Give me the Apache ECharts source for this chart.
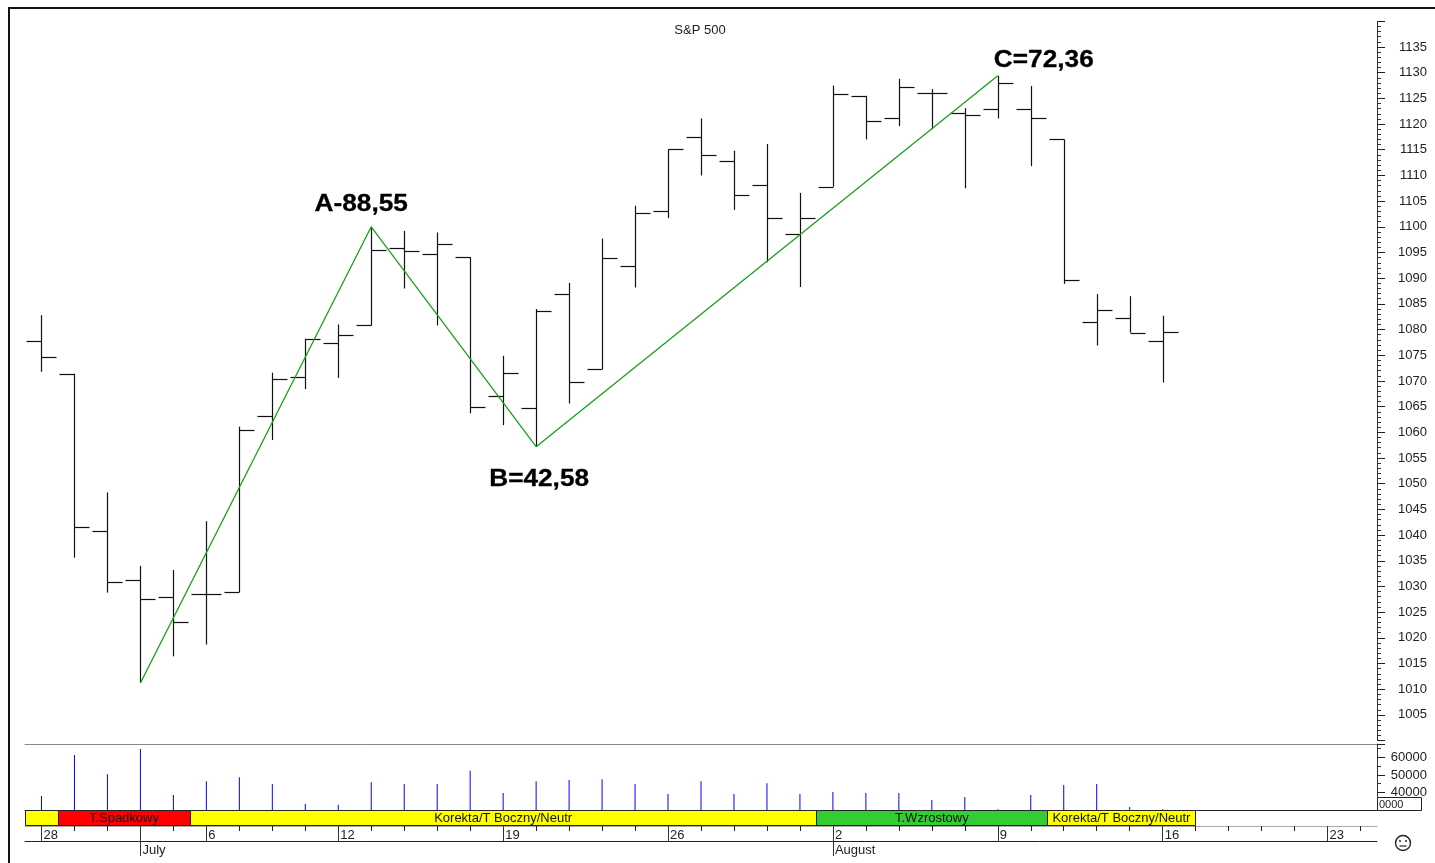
<!DOCTYPE html>
<html>
<head>
<meta charset="utf-8">
<title>S&amp;P 500</title>
<script src="https://cdn.jsdelivr.net/npm/echarts@6/dist/echarts.min.js"></script>
<style>
html,body{margin:0;padding:0;background:#fff;}
#chart{width:1435px;height:863px;}
</style>
</head>
<body>
<div id="chart"></div>
<script>
var days = ['28','29','30','1','2','6','7','8','9','12','13','14','15','16','19','20','21','22','23','26','27','28','29','30','2','3','4','5','6','9','10','11','12','13','16','17','18','19','20','23','24'];
var months = ['','','','July','','','','','','','','','','','','','','','','','','','','','August','','','','','','','','','','','','','','','',''];
var weekIdx = [0,5,9,14,19,24,29,34,39];
var monthIdx = [3,24];

var opens  = [1077.8,1071.4,1040.8,1031.3,1027.9,1028.5,1028.9,1063.1,1070.7,1077.4,1080.8,1095.8,1094.7,1094.1,1067.1,1064.7,1086.9,1072.3,1092.4,1103,1117.4,1112.9,1108.1,1098.6,1107.8,1125.5,1121.2,1126,1122.2,1122.9,1122.9,1117,1081.5,1082.3,1077.8];
var closes = [1074.7,1041.5,1030.9,1027.6,1023,1028.5,1060.5,1070.3,1078.2,1078.9,1095.4,1095.2,1096.6,1065,1071.5,1083.6,1069.8,1093.9,1102.7,1115.1,1114,1106.2,1101.7,1101.7,1125.9,1120.6,1127.3,1126,1121.8,1127.9,1121.2,1089.7,1083.8,1079.4,1079.5];
var highs  = [1082.8,1071.4,1048.3,1034,1033.2,1042.7,1061.1,1071.6,1078.2,1081,1100,1099.2,1098.9,1094.1,1074.9,1084,1089.1,1097.7,1104.1,1115.1,1121.1,1114.8,1116.1,1106.6,1127.5,1125.5,1128.8,1126.8,1123.1,1129.4,1127.4,1117,1086.9,1086.5,1082.7];
var lows   = [1071.8,1035.6,1028.8,1011.2,1016.4,1018.7,1028.9,1058.5,1068.4,1070.6,1080.8,1088,1080.8,1063.7,1061.4,1057.2,1065.6,1072.3,1088.2,1101.7,1110,1103.3,1093.1,1088.3,1107.8,1117,1119.6,1119,1107.5,1121.1,1111.8,1088.9,1076.9,1079.4,1069.7];
var volumes = [38000,61430,50400,64860,38570,46400,48680,44860,33430,33030,45830,44860,44860,52460,39710,46400,47140,47540,44860,39140,46400,39140,45260,39140,40290,39710,39710,35710,37430,30400,38570,44290,44860,31710,30400];

// wave legs, index into days and the price at that bar
var waveIdx = [3,10,15,29];
var waveVal = [1011.2,1100,1057.2,1129.4];
var waveNames = ['','A-88,55','B=42,58','C=72,36'];

var regimeNames = ['','T.Spadkowy','Korekta/T Boczny/Neutr','T.Wzrostowy','Korekta/T Boczny/Neutr'];
var regimeFrom = [-0.5,0.5,4.5,23.5,30.5];
var regimeTo = [0.5,4.5,23.5,30.5,35];
var regimeColors = ['#ffff00','#ff0000','#ffff00','#33cc33','#ffff00'];

var waveLine = days.map(function(d,i){
	var k = waveIdx.indexOf(i);
	return k<0 ? null : waveVal[k];
});
var labelOffsets = [[0,0],[-10,-22],[3,33],[46,-15]];
var font = '"Liberation Sans",Arial,sans-serif';

var myChart = echarts.init(document.getElementById('chart'));

function renderBar(params,api){
	var i = api.value(0);
	var x = Math.round(api.coord([i,0])[0])+0.5;
	var yO = Math.round(api.coord([i,api.value(1)])[1])+0.5;
	var yC = Math.round(api.coord([i,api.value(2)])[1])+0.5;
	var yH = api.coord([i,api.value(3)])[1];
	var yL = api.coord([i,api.value(4)])[1];
	var st = {stroke:'#111',lineWidth:1.2,fill:null};
	return {type:'group',children:[
		{type:'line',shape:{x1:x,y1:yH,x2:x,y2:yL},style:st},
		{type:'line',shape:{x1:x-15,y1:yO,x2:x,y2:yO},style:st},
		{type:'line',shape:{x1:x,y1:yC,x2:x+15,y2:yC},style:st}
	]};
}

// the source text is wider than any installed face, so stretch it a little
function renderWaveLabel(params,api){
	var k = api.value(2);
	var p = api.coord([api.value(0),api.value(1)]);
	return {type:'text',x:p[0]+labelOffsets[k][0],y:p[1]+labelOffsets[k][1],scaleX:1.14,
		style:{text:waveNames[k],textAlign:'center',textVerticalAlign:'middle',fill:'#000',
			stroke:'#000',lineWidth:0.3,font:'bold 23px '+font}};
}

function renderRegime(params,api){
	var i = api.value(0);
	var cs = params.coordSys;
	var w = api.size([1,0])[0];
	var x0 = cs.x+(regimeFrom[i]+0.5)*w;
	var x1 = cs.x+(regimeTo[i]+0.5)*w;
	return {type:'group',children:[
		{type:'rect',shape:{x:Math.round(x0)+0.5,y:cs.y+0.5,width:Math.round(x1-x0),height:cs.height-1},
			style:{fill:regimeColors[i],stroke:'#222',lineWidth:1}},
		{type:'text',style:{x:(x0+x1)/2,y:cs.y+cs.height/2+0.5,text:regimeNames[i],textAlign:'center',textVerticalAlign:'middle',
			fill:'#111',font:'13px '+font}}
	]};
}

function plainNumber(v){ return String(v); }

var option = {
	animation:false,
	backgroundColor:'#fff',
	title:{text:'S&P 500',left:695,top:19,textAlign:'center',
		textStyle:{color:'#222',fontSize:13,fontWeight:'normal',fontFamily:font}},
	grid:[
		{left:25,width:1352,top:21.3,height:719.3},
		{left:25,width:1352,top:744,height:66},
		{left:25,width:1352,top:810,height:16},
		{left:25,width:1352,top:826,height:15}
	],
	xAxis:[
		{gridIndex:0,type:'category',data:days,show:false},
		{gridIndex:1,type:'category',data:days,position:'top',axisLine:{onZero:false,lineStyle:{color:'#888',width:1}},axisTick:{show:false},axisLabel:{show:false}},
		{gridIndex:2,type:'category',data:days,position:'top',axisLine:{onZero:false,lineStyle:{color:'#222',width:1}},axisTick:{show:false},axisLabel:{show:false}},
		{gridIndex:2,type:'category',data:days,position:'bottom',axisLine:{onZero:false,lineStyle:{color:'#aaa',width:1}},
			axisTick:{show:true,alignWithLabel:true,interval:0,length:5,lineStyle:{color:'#222'}},axisLabel:{show:false}},
		{gridIndex:3,type:'category',data:days,position:'top',axisLine:{onZero:false,show:false},
			axisTick:{show:true,alignWithLabel:true,inside:true,length:15,customValues:weekIdx.concat(monthIdx),lineStyle:{color:'#333'}},
			axisLabel:{inside:true,customValues:weekIdx,align:'left',verticalAlign:'top',margin:3,padding:[0,0,0,2],
				color:'#222',fontSize:13,fontFamily:font}},
		{gridIndex:3,type:'category',data:months,position:'bottom',axisLine:{onZero:false,lineStyle:{color:'#222',width:1}},
			axisTick:{show:true,alignWithLabel:true,length:15,customValues:monthIdx,lineStyle:{color:'#333'}},
			axisLabel:{customValues:monthIdx,align:'left',verticalAlign:'top',margin:3,padding:[0,0,0,2],
				color:'#222',fontSize:13,fontFamily:font}}
	],
	yAxis:[
		{gridIndex:0,type:'value',position:'right',min:1000,max:1140,interval:5,splitLine:{show:false},
			axisLine:{show:true,lineStyle:{color:'#333'}},
			axisTick:{show:true,length:8,lineStyle:{color:'#222'}},
			minorTick:{show:true,splitNumber:5,length:4,lineStyle:{color:'#333'}},
			axisLabel:{showMinLabel:false,showMaxLabel:false,align:'right',margin:50,padding:[2,0,0,0],color:'#222',fontSize:13,fontFamily:font,formatter:plainNumber}},
		{gridIndex:1,type:'value',position:'right',min:30000,max:67714,interval:10000,splitLine:{show:false},
			axisLine:{show:true,lineStyle:{color:'#333'}},
			axisTick:{show:true,length:8,lineStyle:{color:'#222'}},
			minorTick:{show:true,splitNumber:2,length:4,lineStyle:{color:'#333'}},
			axisLabel:{showMinLabel:false,showMaxLabel:false,align:'right',margin:50,padding:[3,0,0,0],color:'#222',fontSize:13,fontFamily:font,formatter:plainNumber}},
		{gridIndex:2,type:'value',min:0,max:1,show:false},
		{gridIndex:3,type:'value',min:0,max:1,show:false}
	],
	series:[
		{type:'custom',name:'S&P 500',xAxisIndex:0,yAxisIndex:0,renderItem:renderBar,clip:false,
			encode:{x:0,y:[1,2,3,4]},
			data:opens.map(function(o,i){return [i,o,closes[i],highs[i],lows[i]];})},
		{type:'line',name:'wave',xAxisIndex:0,yAxisIndex:0,data:waveLine,connectNulls:true,showSymbol:false,z:5,
			lineStyle:{color:'#18a018',width:1.3}},
		{type:'custom',name:'wave labels',xAxisIndex:0,yAxisIndex:0,renderItem:renderWaveLabel,clip:false,z:6,
			encode:{x:0,y:1},
			data:waveIdx.map(function(i,k){return [i,waveVal[k],k];})},
		{type:'bar',name:'volume',xAxisIndex:1,yAxisIndex:1,data:volumes,barWidth:1,itemStyle:{color:'#0000ff'}},
		{type:'custom',name:'regime',xAxisIndex:3,yAxisIndex:2,renderItem:renderRegime,clip:false,z:4,
			encode:{x:0,y:1},
			data:regimeNames.map(function(n,i){return [i,0];})}
	],
	graphic:[
		{type:'polyline',z:100,shape:{points:[[9,863],[9,8],[1435,8]]},style:{stroke:'#111',lineWidth:2,fill:null}},
		{type:'rect',z:100,shape:{x:1377.5,y:797.5,width:44,height:13},style:{fill:'#fff',stroke:'#222',lineWidth:1}},
		{type:'text',z:101,style:{x:1379,y:804.5,text:'0000',textVerticalAlign:'middle',fill:'#222',font:'11px '+font}},
		{type:'group',z:100,x:1403,y:843,children:[
			{type:'circle',z:100,shape:{cx:0,cy:0,r:7.5},style:{stroke:'#222',lineWidth:1.4,fill:'#fff'}},
			{type:'circle',z:101,shape:{cx:-3,cy:-2,r:1},style:{fill:'#222'}},
			{type:'circle',z:101,shape:{cx:3,cy:-2,r:1},style:{fill:'#222'}},
			{type:'line',z:101,shape:{x1:-3.5,y1:3,x2:3.5,y2:3},style:{stroke:'#222',lineWidth:1.2}}
		]}
	]
};
myChart.setOption(option);
</script>
</body>
</html>
